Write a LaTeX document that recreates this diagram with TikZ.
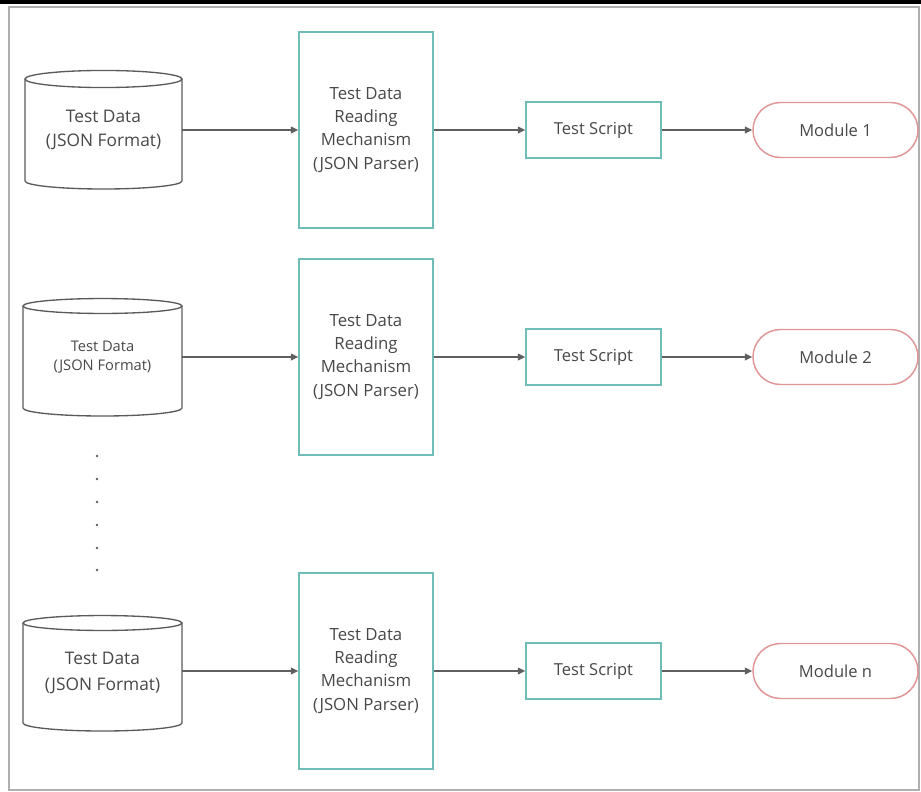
\documentclass[tikz,border=0pt]{standalone}
\usepackage{fontspec}
\setmainfont{Open Sans}
\usetikzlibrary{arrows.meta,shapes.misc}

\definecolor{ink}{RGB}{72,72,72}
\definecolor{tealline}{RGB}{112,188,184}
\definecolor{modline}{RGB}{224,150,150}
\definecolor{linkgray}{RGB}{95,95,95}
\definecolor{framegray}{RGB}{175,175,175}
\definecolor{cylgray}{RGB}{90,90,90}

\begin{document}
\begin{tikzpicture}[
  x=0.75pt, y=-0.75pt,
  procbox/.style={draw=tealline, line width=1.1pt, fill=white, align=center,
    text=ink, inner sep=0pt, minimum width=100.5pt, minimum height=147pt,
    font=\fontsize{12.6}{17.3}\selectfont},
  scriptbox/.style={draw=tealline, line width=1.1pt, fill=white, text=ink,
    inner sep=0pt, minimum width=101.25pt, minimum height=42pt,
    font=\fontsize{12.4}{15}\selectfont},
  modbox/.style={rounded rectangle, draw=modline, line width=1.1pt, fill=white,
    text=ink, inner sep=0pt, minimum width=123.75pt, minimum height=41.25pt,
    font=\fontsize{12.4}{15}\selectfont},
  cylbody/.style={inner sep=0pt, outer sep=0pt, align=center, text=ink},
  cylline/.style={draw=cylgray, line width=1pt},
  link/.style={draw=linkgray, line width=1pt,
    -{Triangle[length=5.5pt,width=5pt]}},
]
\useasboundingbox (0,0) rectangle (921,792);

% top strip and outer frame
\fill[black] (0,0) rectangle (921,4.5);
\draw[framegray, line width=1pt] (9,7) rectangle (919,790);

% data stores (cylinder bodies, text inside)
\node[cylbody, minimum width=117.75pt, minimum height=76.5pt,
      font=\fontsize{13}{18}\selectfont] (c1) at (103.5,130)
      {Test Data\\(JSON Format)};
\node[cylbody, minimum width=119.25pt, minimum height=76.5pt,
      font=\fontsize{11}{14.6}\selectfont] (c2) at (102.5,357)
      {Test Data\\(JSON Format)};
\node[cylbody, minimum width=119.25pt, minimum height=75pt,
      font=\fontsize{13}{20}\selectfont] (c3) at (102.5,673)
      {Test Data\\(JSON Format)};

\foreach \c/\rx/\rt in {c1/58.875pt/6.4pt, c2/59.625pt/5.6pt, c3/59.625pt/5.6pt}{
  \draw[cylline] (\c.north west) -- (\c.south west)
    arc[start angle=180, end angle=360, x radius=\rx, y radius=6pt]
    -- (\c.north east);
  \draw[cylline] (\c.north) ellipse[x radius=\rx, y radius=\rt];
}

% parsers
\node[procbox] (b1) at (366,130) {Test Data\\Reading\\Mechanism\\(JSON Parser)};
\node[procbox] (b2) at (366,357) {Test Data\\Reading\\Mechanism\\(JSON Parser)};
\node[procbox] (b3) at (366,671) {Test Data\\Reading\\Mechanism\\(JSON Parser)};

% scripts
\node[scriptbox] (s1) at (593.5,130) {Test Script};
\node[scriptbox] (s2) at (593.5,357) {Test Script};
\node[scriptbox] (s3) at (593.5,671) {Test Script};

% modules
\node[modbox] (m1) at (835.5,130) {Module 1};
\node[modbox] (m2) at (835.5,357) {Module 2};
\node[modbox] (m3) at (835.5,671) {Module n};

% flow
\foreach \i in {1,2,3}{
  \draw[link] (c\i.east |- b\i.west) -- (b\i.west);
  \draw[link] (b\i.east) -- (s\i.west);
  \draw[link] (s\i.east) -- (m\i.west);
}

% ellipsis between stores
\foreach \yy in {456,479,502,525,548,570}
  \fill[linkgray] (97,\yy) circle[radius=1.1pt];
\end{tikzpicture}
\end{document}
